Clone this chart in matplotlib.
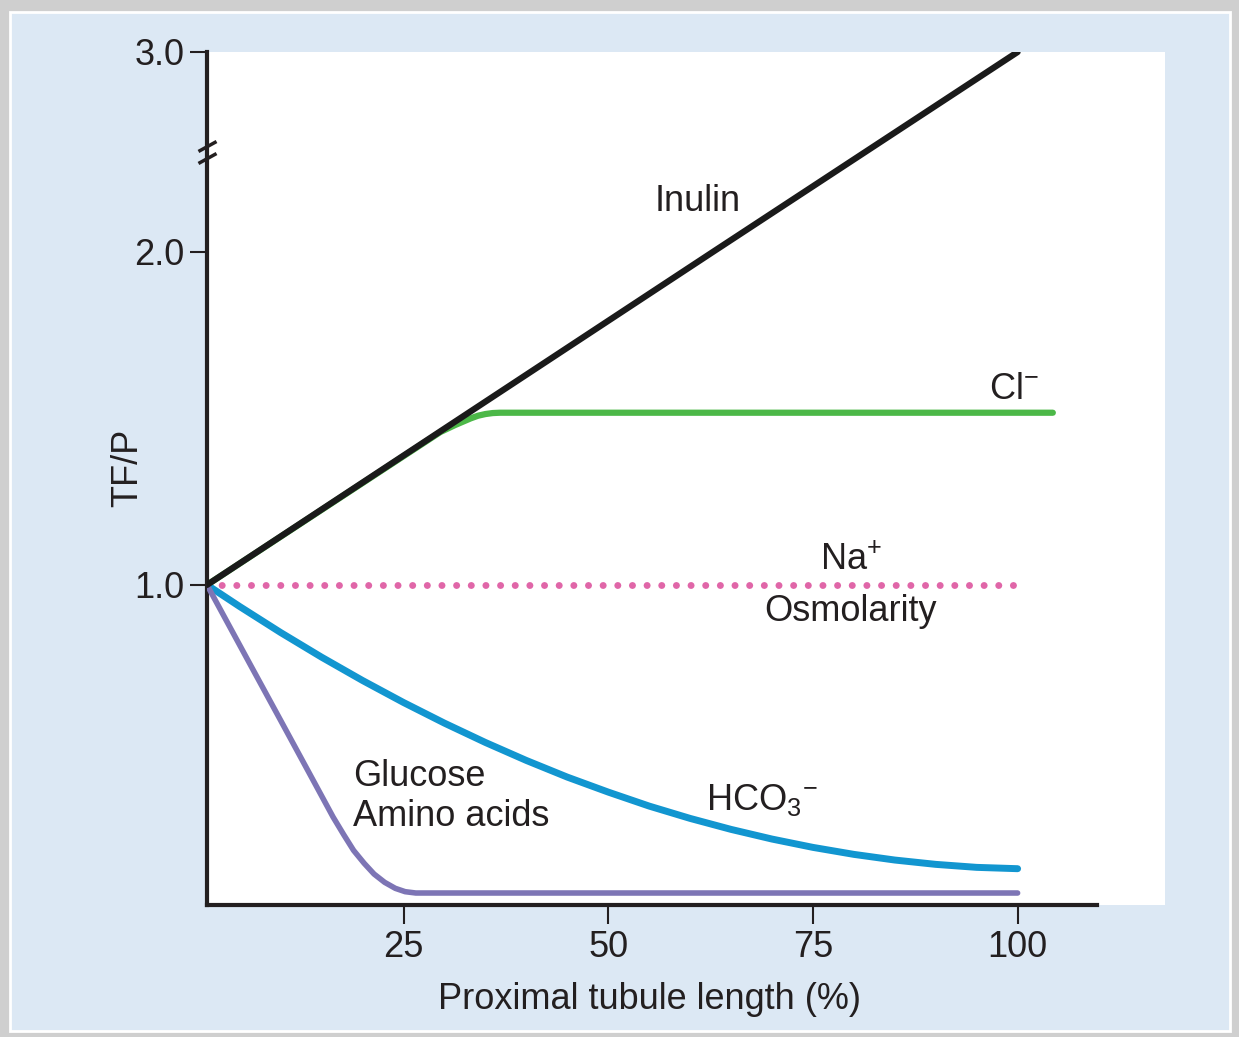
import numpy as np
import matplotlib
matplotlib.use('Agg')
import matplotlib.pyplot as plt
from matplotlib.patches import Rectangle

plt.rcParams['font.family'] = ['Liberation Sans', 'DejaVu Sans']
plt.rcParams['mathtext.fontset'] = 'custom'
plt.rcParams['mathtext.rm'] = 'Liberation Sans'
plt.rcParams['mathtext.it'] = 'Liberation Sans'
plt.rcParams['mathtext.default'] = 'regular'

# values (x = % of proximal tubule length, y = TF/P)
inulin_x = [1, 62.8, 100]
inulin_y = [1.0, 2.0, 3.0]

cl_x = [1, 29.5, 31.3, 33.2, 34.1, 35.0, 35.9, 36.8, 104.3]
cl_y = [1.0, 1.459, 1.480, 1.500, 1.508, 1.513, 1.516, 1.517, 1.517]

na_x = [1, 100.8]
na_y = [1.0, 1.0]

hco3_x = [1, 5, 10, 15, 20, 25, 30, 35, 40, 45, 50, 55, 60, 65, 70, 75, 80, 85, 90, 95, 100]
hco3_y = [1.0, 0.935, 0.857, 0.783, 0.713, 0.647, 0.585, 0.527, 0.473, 0.423, 0.378,
          0.336, 0.299, 0.266, 0.237, 0.212, 0.191, 0.174, 0.161, 0.152, 0.148]

gluc_x = [1, 6.3, 10.0, 13.6, 16.4, 17.7, 18.9, 20.2, 21.4, 22.7, 24.0, 25.2, 26.5, 100]
gluc_y = [1.0, 0.760, 0.593, 0.430, 0.303, 0.250, 0.203, 0.164, 0.132, 0.107, 0.089,
          0.079, 0.075, 0.075]

x_ticks = [25, 50, 75, 100]
y_ticks = [1.0, 2.0, 3.0]
y_ticklabels = ['1.0', '2.0', '3.0']


# broken y axis: everything above 2.0 is squeezed
def fwd(y):
    y = np.asarray(y, dtype=float)
    return np.where(y <= 2, y, 2 + (y - 2) * 0.6)


def inv(u):
    u = np.asarray(u, dtype=float)
    return np.where(u <= 2, u, 2 + (u - 2) / 0.6)


ink = '#231f20'
fig = plt.figure(figsize=(12.39, 10.37), dpi=100)
fig.patch.set_facecolor('#cfcfcf')
fig.add_artist(Rectangle((10 / 1239, 6 / 1037), 1220 / 1239, 1019 / 1037,
                         transform=fig.transFigure, facecolor='#dce8f4',
                         edgecolor='white', lw=2, zorder=-10))

ax = fig.add_axes([207 / 1239, 132 / 1037, 958 / 1239, 853 / 1037])
ax.set_yscale('function', functions=(fwd, inv))
ax.set_xlim(1, 118)
ax.set_ylim(0.039, 3.0)

ax.plot(na_x, na_y, color='#e066a8', lw=5, linestyle=(0, (0.01, 2.1)),
        dash_capstyle='round', zorder=2)
ax.plot(cl_x, cl_y, color='#4cb848', lw=4.5, solid_capstyle='round',
        solid_joinstyle='round', zorder=2)
ax.plot(hco3_x, hco3_y, color='#1296d0', lw=5, solid_capstyle='round',
        solid_joinstyle='round', zorder=3)
ax.plot(gluc_x, gluc_y, color='#7d75b5', lw=4, solid_capstyle='round',
        solid_joinstyle='round', zorder=3)
ax.plot(inulin_x, inulin_y, color='#1a1a1a', lw=4.5, solid_capstyle='round', zorder=4)

txt = dict(fontsize=26, color=ink)
ax.text(60.9, 2.25, 'Inulin', ha='center', va='center', **txt)
ax.text(99.5, 1.586, r'Cl$^{-}$', ha='center', va='center', **txt)
ax.text(79.6, 1.075, r'Na$^{+}$', ha='center', va='center', **txt)
ax.text(79.6, 0.919, 'Osmolarity', ha='center', va='center', **txt)
ax.text(18.8, 0.425, 'Glucose', ha='left', va='center', **txt)
ax.text(18.8, 0.305, 'Amino acids', ha='left', va='center', **txt)
ax.text(68.8, 0.354, r'HCO$_3$$^{-}$', ha='center', va='center', **txt)

for s in ['top', 'right']:
    ax.spines[s].set_visible(False)
for s in ['left', 'bottom']:
    ax.spines[s].set_linewidth(3)
    ax.spines[s].set_color(ink)
ax.spines['bottom'].set_bounds(1, 109.7)

ax.set_xticks(x_ticks)
ax.set_xticklabels([str(t) for t in x_ticks])
ax.set_yticks(y_ticks)
ax.set_yticklabels(y_ticklabels)
ax.tick_params(axis='y', length=12, width=1.5, pad=4, labelsize=26, colors=ink)
ax.tick_params(axis='x', length=14, width=1.5, pad=4, labelsize=26, colors=ink)
ax.minorticks_off()

ax.set_xlabel('Proximal tubule length (%)', fontsize=26, color=ink)
ax.xaxis.set_label_coords(0.4624, -0.09)
ax.set_ylabel('TF/P', fontsize=26, color=ink)
ax.yaxis.set_label_coords(-0.064, 0.512)

# break marks on the y axis
brk = [(-1, -0.55), (1, 0.55)]
ax.plot([0, 0], [2.47, 2.53], transform=ax.get_yaxis_transform(), linestyle='none',
        marker=brk, markersize=13, mew=2.5, color=ink, clip_on=False, zorder=5)

plt.savefig('out.png', dpi=100, facecolor=fig.get_facecolor())
plt.close()
